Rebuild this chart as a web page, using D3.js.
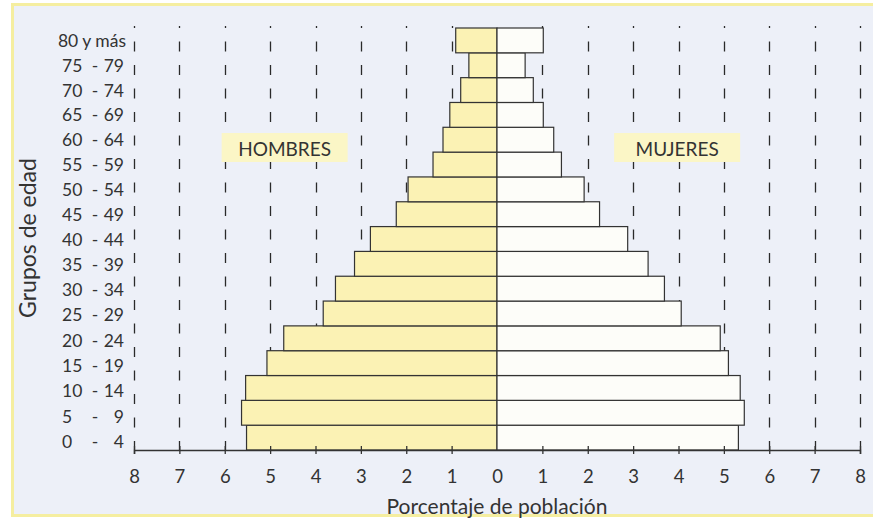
<!DOCTYPE html>
<html>
<head>
<meta charset="utf-8">
<script src="https://cdn.jsdelivr.net/npm/d3@7"></script>
<style>
  html, body { margin: 0; padding: 0; background: #ffffff; }
  svg { display: block; }
  text { font-family: "Lato", "Open Sans", sans-serif; fill: #333; }
</style>
</head>
<body>
<svg id="chart" width="873" height="522"></svg>
<script>
// ---- Data ----
const ageGroups = ["0 - 4", "5 - 9", "10 - 14", "15 - 19", "20 - 24", "25 - 29", "30 - 34",
  "35 - 39", "40 - 44", "45 - 49", "50 - 54", "55 - 59", "60 - 64", "65 - 69", "70 - 74",
  "75 - 79", "80 y más"];
const hombres = [5.52, 5.63, 5.54, 5.07, 4.70, 3.83, 3.56, 3.14, 2.79, 2.22, 1.96, 1.41, 1.19, 1.04, 0.80, 0.62, 0.91];
const mujeres = [5.32, 5.45, 5.36, 5.10, 4.92, 4.06, 3.69, 3.33, 2.88, 2.26, 1.92, 1.42, 1.25, 1.02, 0.80, 0.62, 1.02];
const xTickValues = [-8, -7, -6, -5, -4, -3, -2, -1, 0, 1, 2, 3, 4, 5, 6, 7, 8];
const xTickLabels = ["8", "7", "6", "5", "4", "3", "2", "1", "0", "1", "2", "3", "4", "5", "6", "7", "8"];
const sexLabels = ["HOMBRES", "MUJERES"];
const xTitle = "Porcentaje de población";
const yTitle = "Grupos de edad";

// ---- Layout ----
const svg = d3.select("#chart");
const x = d3.scaleLinear().domain([-8, 8]).range([134, 860]);
const y = d3.scaleBand().domain(ageGroups).range([450, 28]).padding(0);

// background panel with yellow frame
svg.append("rect").attr("x", 12.5).attr("y", 4.5).attr("width", 866).attr("height", 511)
  .attr("fill", "#edf0f8").attr("stroke", "#f5eea0").attr("stroke-width", 3);

// dashed gridlines
svg.append("g").selectAll("line")
  .data(xTickValues.filter(d => d !== 0))
  .join("line")
  .attr("x1", d => Math.round(x(d)) + 0.5).attr("x2", d => Math.round(x(d)) + 0.5)
  .attr("y1", 26).attr("y2", 450)
  .attr("stroke", "#2a2a2a").attr("stroke-width", 1.3)
  .attr("stroke-dasharray", "10,13.5").attr("stroke-dashoffset", 8);

// label boxes
const boxes = [
  { label: sexLabels[0], cx: -4.68 },
  { label: sexLabels[1], cx: 3.97 }
];
const bg = svg.append("g").selectAll("g").data(boxes).join("g");
bg.append("rect")
  .attr("x", d => x(d.cx) - 63).attr("y", 133).attr("width", 126).attr("height", 29)
  .attr("fill", "#fbf6c6");
bg.append("text")
  .attr("x", d => x(d.cx)).attr("y", 148)
  .attr("text-anchor", "middle").attr("dominant-baseline", "central")
  .attr("font-size", 19).text(d => d.label);

// bars
const bars = svg.append("g");
bars.selectAll("rect.h").data(ageGroups).join("rect").attr("class", "h")
  .attr("x", (d, i) => x(-hombres[i])).attr("width", (d, i) => x(0) - x(-hombres[i]))
  .attr("y", d => y(d)).attr("height", y.bandwidth())
  .attr("fill", "#fbf2b4").attr("stroke", "#333").attr("stroke-width", 1.2);
bars.selectAll("rect.m").data(ageGroups).join("rect").attr("class", "m")
  .attr("x", x(0)).attr("width", (d, i) => x(mujeres[i]) - x(0))
  .attr("y", d => y(d)).attr("height", y.bandwidth())
  .attr("fill", "#fdfdf9").attr("stroke", "#333").attr("stroke-width", 1.2);

// x axis
const axis = d3.axisBottom(x).tickValues(xTickValues).tickSize(4)
  .tickFormat((d, i) => xTickLabels[i]);
const ax = svg.append("g").attr("transform", "translate(0,450)").call(axis);
ax.select(".domain").attr("stroke", "#333").attr("stroke-width", 1.5);
ax.selectAll(".tick line").attr("stroke", "#333").attr("stroke-width", 1.3).attr("y1", -4);
ax.selectAll(".tick text").attr("font-size", 18.5).attr("y", 20)
  .attr("font-family", "Lato, sans-serif").attr("fill", "#333");
ax.selectAll(".tick").filter(d => d === 0).select("line").attr("y1", 0).attr("y2", 0);

// y labels (three columns)
const yl = svg.append("g").selectAll("g").data(ageGroups).join("g")
  .attr("transform", (d, i) => `translate(0,${y(d) + y.bandwidth() / 2 + (i < 8 ? (8 - i) * 0.5 : 0)})`);
yl.each(function (d) {
  const g = d3.select(this);
  const parts = d.split(" - ");
  const fs = 17.5;
  if (parts.length === 2) {
    g.append("text").attr("x", 62).attr("dominant-baseline", "central").attr("font-size", fs).text(parts[0]);
    g.append("text").attr("x", 95).attr("text-anchor", "middle").attr("dominant-baseline", "central").attr("font-size", fs).text("-");
    g.append("text").attr("x", 124).attr("text-anchor", "end").attr("dominant-baseline", "central").attr("font-size", fs).text(parts[1]);
  } else {
    g.append("text").attr("x", 126).attr("text-anchor", "end").attr("dominant-baseline", "central").attr("font-size", fs).text(d);
  }
});

// axis titles
svg.append("text").attr("x", x(0)).attr("y", 505).attr("text-anchor", "middle")
  .attr("dominant-baseline", "central").attr("font-size", 21).text(xTitle);
svg.append("text").attr("transform", "translate(27,238) rotate(-90)")
  .attr("text-anchor", "middle").attr("dominant-baseline", "central")
  .attr("font-size", 23).text(yTitle);
</script>
</body>
</html>
